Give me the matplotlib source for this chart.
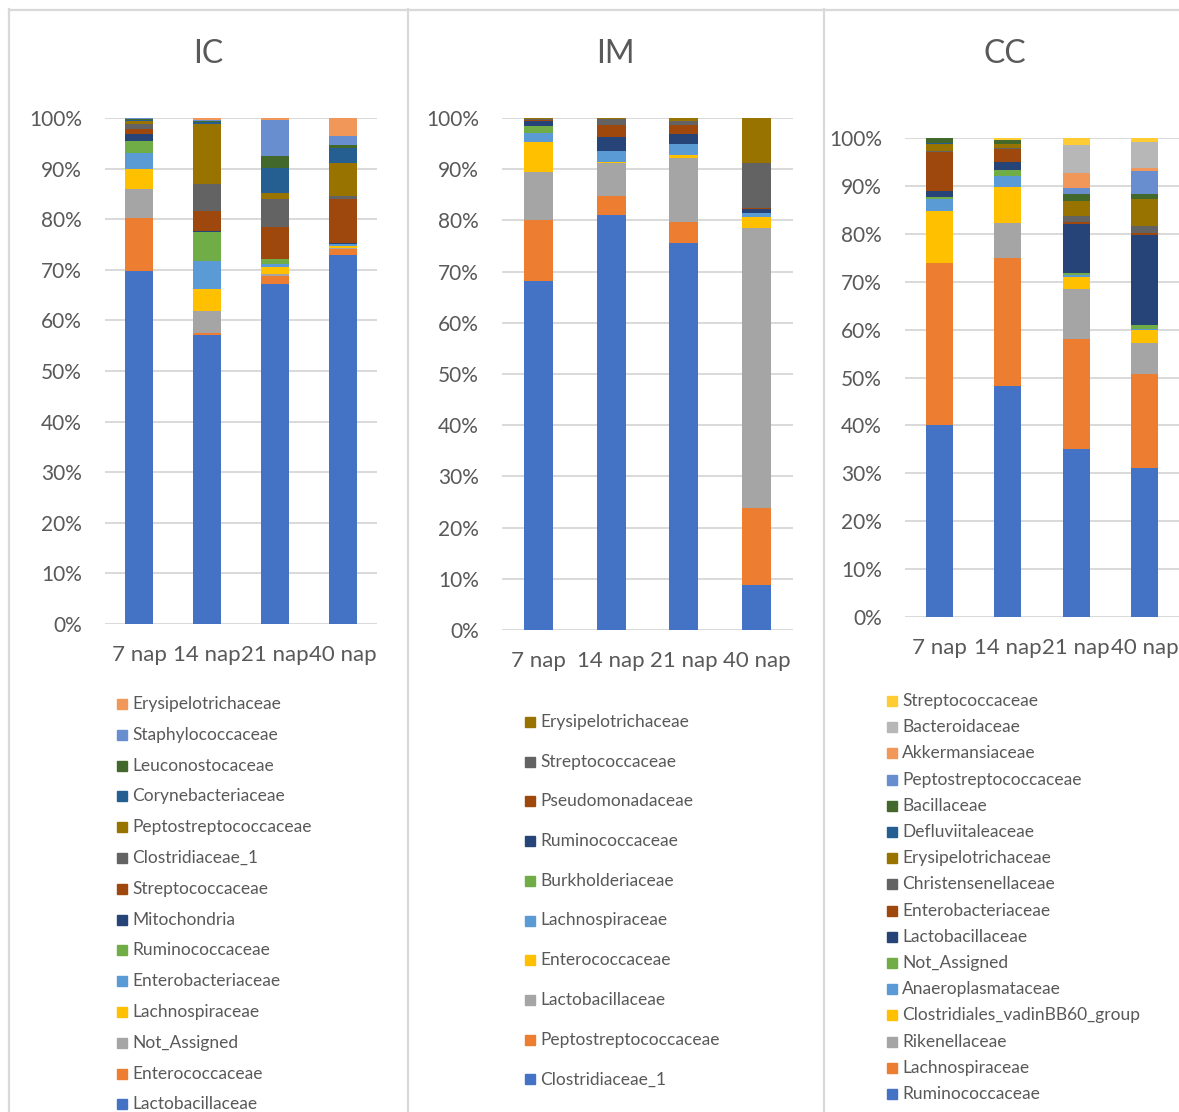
import numpy as np
import matplotlib
matplotlib.use("Agg")
import matplotlib.pyplot as plt
from matplotlib.patches import Rectangle

plt.rcParams['font.family'] = ['Lato', 'DejaVu Sans']

W, H = 1179, 1112
TXT = '#595959'
GRID = '#D9D9D9'

# Office colour cycle used for stacked series (bottom series first)
office = ['#4472C4', '#ED7D31', '#A5A5A5', '#FFC000', '#5B9BD5', '#70AD47',
          '#264478', '#9E480E', '#636363', '#997300', '#255E91', '#43682B',
          '#698ED0', '#F1975A', '#B7B7B7', '#FFCD33']

days = ['7 nap', '14 nap', '21 nap', '40 nap']

# ---- IC ----
ic_names = ['Lactobacillaceae', 'Enterococcaceae', 'Not_Assigned', 'Lachnospiraceae',
            'Enterobacteriaceae', 'Ruminococcaceae', 'Mitochondria', 'Streptococcaceae',
            'Clostridiaceae_1', 'Peptostreptococcaceae', 'Corynebacteriaceae',
            'Leuconostocaceae', 'Staphylococcaceae', 'Erysipelotrichaceae']
ic_vals = [
    [69.6, 57.1, 67.4, 73.0],
    [10.5, 0.5, 1.6, 1.2],
    [5.7, 4.2, 0.4, 0.2],
    [4.1, 4.4, 1.3, 0.4],
    [3.0, 5.6, 0.5, 0.2],
    [2.5, 5.6, 1.0, 0.1],
    [1.4, 0.2, 0.1, 0.1],
    [1.0, 4.0, 6.4, 8.7],
    [1.0, 5.3, 5.4, 0.7],
    [0.5, 12.0, 1.2, 6.6],
    [0.3, 0.3, 5.0, 2.9],
    [0.2, 0.2, 2.4, 0.6],
    [0.1, 0.3, 7.2, 1.8],
    [0.0, 0.3, 0.3, 3.5],
]

# ---- IM ----
im_names = ['Clostridiaceae_1', 'Peptostreptococcaceae', 'Lactobacillaceae',
            'Enterococcaceae', 'Lachnospiraceae', 'Burkholderiaceae', 'Ruminococcaceae',
            'Pseudomonadaceae', 'Streptococcaceae', 'Erysipelotrichaceae']
im_vals = [
    [68.2, 81.1, 75.7, 8.7],
    [11.9, 3.7, 4.1, 15.1],
    [9.4, 6.4, 12.4, 54.7],
    [5.9, 0.3, 0.7, 2.2],
    [1.7, 2.0, 2.1, 0.7],
    [1.3, 0.0, 0.1, 0.0],
    [1.0, 2.7, 1.9, 0.8],
    [0.3, 2.4, 1.7, 0.2],
    [0.2, 1.3, 0.9, 8.9],
    [0.1, 0.1, 0.5, 8.7],
]

# ---- CC ----
cc_names = ['Ruminococcaceae', 'Lachnospiraceae', 'Rikenellaceae',
            'Clostridiales_vadinBB60_group', 'Anaeroplasmataceae', 'Not_Assigned',
            'Lactobacillaceae', 'Enterobacteriaceae', 'Christensenellaceae',
            'Erysipelotrichaceae', 'Defluviitaleaceae', 'Bacillaceae',
            'Peptostreptococcaceae', 'Akkermansiaceae', 'Bacteroidaceae',
            'Streptococcaceae']
cc_vals = [
    [40.0, 48.2, 35.1, 31.1],
    [34.0, 26.9, 23.0, 19.6],
    [0.0, 7.2, 10.4, 6.4],
    [10.8, 7.5, 2.5, 2.9],
    [2.4, 2.3, 0.3, 0.2],
    [0.5, 1.3, 0.5, 0.8],
    [1.3, 1.7, 10.3, 18.7],
    [8.1, 2.6, 0.4, 0.4],
    [0.2, 0.4, 1.2, 1.6],
    [1.5, 0.7, 3.1, 5.6],
    [0.1, 0.1, 0.0, 0.0],
    [1.0, 0.8, 1.6, 1.1],
    [0.0, 0.0, 1.2, 4.8],
    [0.0, 0.0, 3.0, 0.6],
    [0.1, 0.0, 5.9, 5.3],
    [0.0, 0.4, 1.5, 0.9],
]


def px_axes(fig, x0, y_top, x1, y_bot):
    return fig.add_axes([x0 / W, 1 - y_bot / H, (x1 - x0) / W, (y_bot - y_top) / H])


def stacked(ax, names, vals, width):
    vals = np.array(vals, dtype=float)
    vals = vals / vals.sum(axis=0) * 100  # 100% stacked
    x = np.arange(len(days))
    bottom = np.zeros(len(days))
    for i, name in enumerate(names):
        ax.bar(x, vals[i], width, bottom=bottom, color=office[i], label=name, zorder=3)
        bottom += vals[i]
    ax.set_xlim(-0.5, len(days) - 0.5)
    ax.set_ylim(0, 100)
    ax.set_yticks(np.arange(0, 101, 10))
    ax.set_yticklabels([f'{v}%' for v in range(0, 101, 10)])
    ax.set_xticks(x)
    ax.set_xticklabels(days)
    ax.tick_params(axis='y', length=0, pad=16.5, labelsize=15, labelcolor=TXT)
    ax.tick_params(axis='x', length=0, pad=15, labelsize=16, labelcolor=TXT)
    ax.grid(axis='y', color=GRID, linewidth=1.4, zorder=0)
    ax.set_axisbelow(True)
    for s in ax.spines.values():
        s.set_visible(False)
    ax.set_facecolor('none')


fig = plt.figure(figsize=(W / 100, H / 100), dpi=100)

# overlay in pixel coordinates for frames, titles and legends
ov = fig.add_axes([0, 0, 1, 1])
ov.set_xlim(0, W)
ov.set_ylim(H, 0)
ov.axis('off')

# chart frames
for xl in (9, 408, 824):
    ov.plot([xl, xl], [9, H + 5], color=GRID, linewidth=1.6)
ov.plot([9, W + 5], [9.5, 9.5], color=GRID, linewidth=1.6)

panels = [
    # title, title x, names, values, axes box, bar width, legend (marker x, text x, y0, step)
    ('IC', 208, ic_names, ic_vals, (105, 118, 377, 624), 0.41, (117, 132, 704, 30.8)),
    ('IM', 615, im_names, im_vals, (502, 118, 793, 630), 0.40, (525, 540, 722, 39.7)),
    ('CC', 1005, cc_names, cc_vals, (905, 138, 1179, 617), 0.40, (887, 902, 701, 26.2)),
]

for title, tx, names, vals, box, bw, leg in panels:
    ax = px_axes(fig, *box)
    stacked(ax, names, vals, bw)
    ov.text(tx, 54, title, ha='center', va='center', fontsize=23, color=TXT)
    mx, lx, y0, step = leg
    n = len(names)
    for k in range(n):
        i = n - 1 - k
        y = y0 + k * step
        ov.add_patch(Rectangle((mx, y - 5), 10, 10, color=office[i]))
        ov.text(lx, y, names[i], ha='left', va='center', fontsize=12.5, color=TXT)

fig.savefig('out.png', dpi=100, facecolor='white')
